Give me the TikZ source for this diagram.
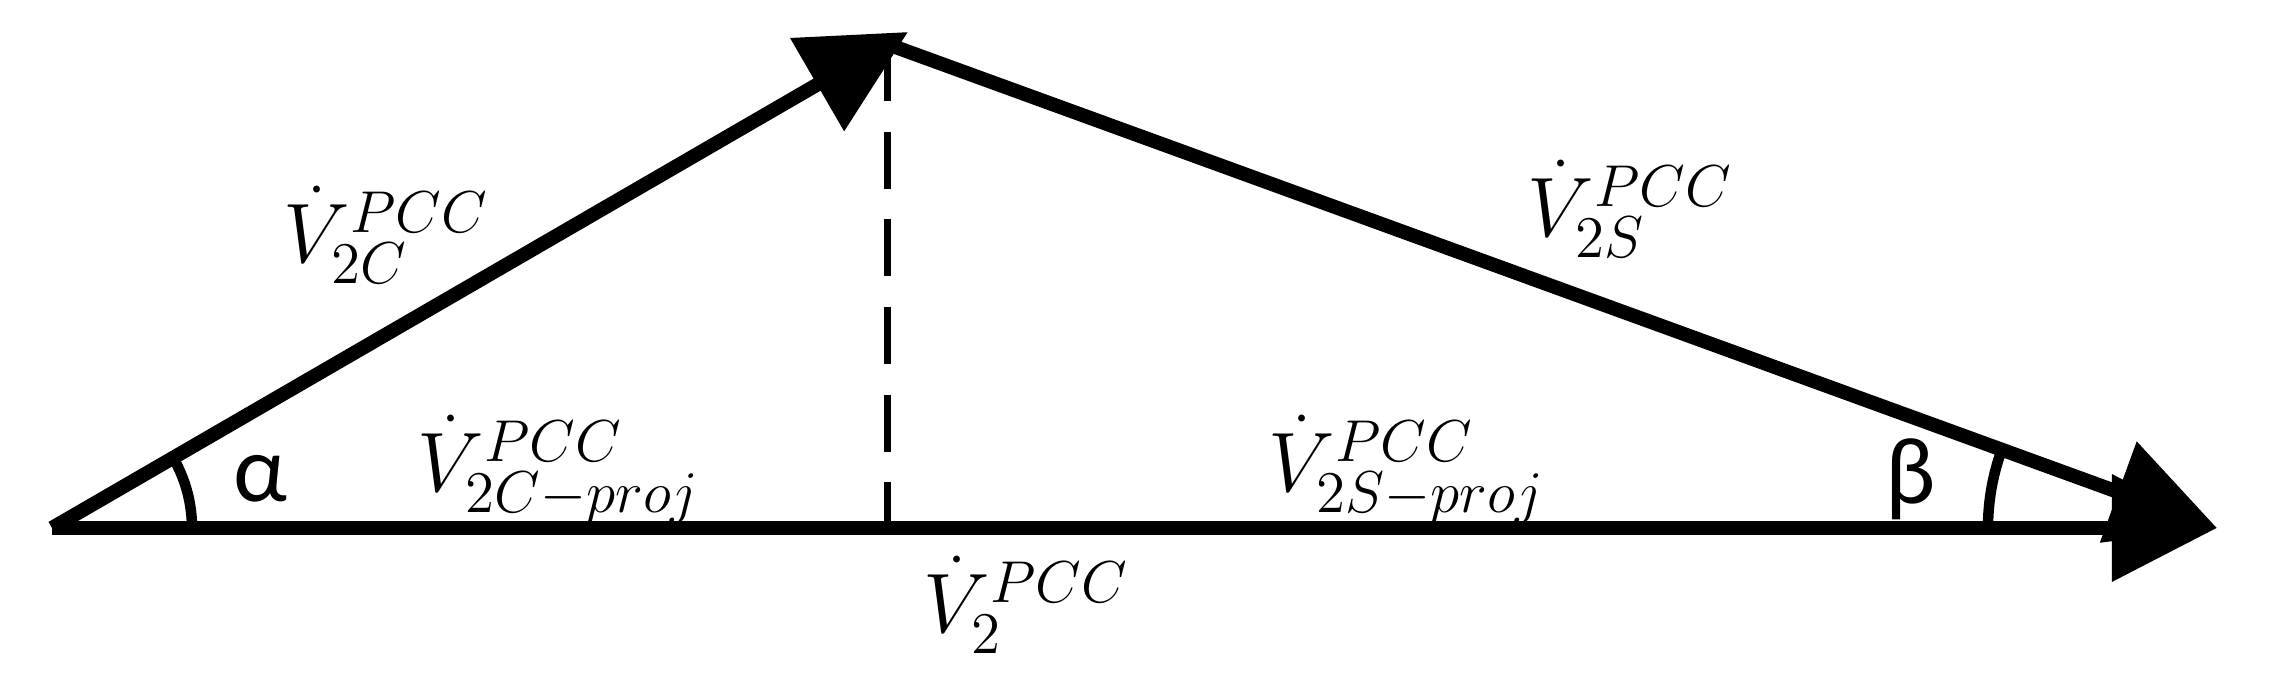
\RequirePackage{fix-cm}
\documentclass[tikz,border=0pt]{standalone}
\usepackage{fontspec}
\newfontfamily\grk{Carlito}
\usetikzlibrary{arrows.meta}
\begin{document}
\begin{tikzpicture}[x=0.01cm,y=-0.01cm,
  vec/.style={line width=0.14cm,-{Triangle[length=1.05cm,width=1.04cm]}},
  dsh/.style={line width=0.07cm,dash pattern=on 0.57cm off 0.306cm},
  arcst/.style={line width=0.105cm},
  lbl/.style={inner sep=0pt,anchor=base west,font=\fontsize{24}{28}\selectfont},
  grl/.style={inner sep=0pt,anchor=base west,font=\fontsize{27}{32}\selectfont\grk}]
\useasboundingbox (0,0) rectangle (2274,692);
\coordinate (A) at (52,528);
\coordinate (T) at (887,44);
\coordinate (Ttip) at (908,32);
\coordinate (B) at (2217,528);
\coordinate (F) at (887,528);
% dashed projection
\draw[dsh] (T) -- (F);
% angle arcs
\draw[arcst] (A) ++(140,0) arc[start angle=0,end angle=-30,radius=140];
\draw[arcst] (B) ++(-229,0) arc[start angle=180,end angle=200,radius=229];
% vectors
\draw[vec] (A) -- (B);
\draw[vec] (A) -- (Ttip);
\draw[vec] (T) -- (B);
% labels
\node[lbl] (l2c) at (283,263) {$\dot{V}^{PCC}_{2C}$};
\node[lbl] (l2s) at (1527,237) {$\dot{V}^{PCC}_{2S}$};
\node[lbl] (l2cp) at (417,492) {$\dot{V}^{PCC}_{2C-proj}$};
\node[lbl] (l2sp) at (1268,492) {$\dot{V}^{PCC}_{2S-proj}$};
\node[lbl] (l2) at (923,633) {$\dot{V}^{PCC}_{2}$};
\node[grl] (alpha) at (233,502) {α};
\node[grl] (beta) at (1885,504) {β};
\end{tikzpicture}
\end{document}
